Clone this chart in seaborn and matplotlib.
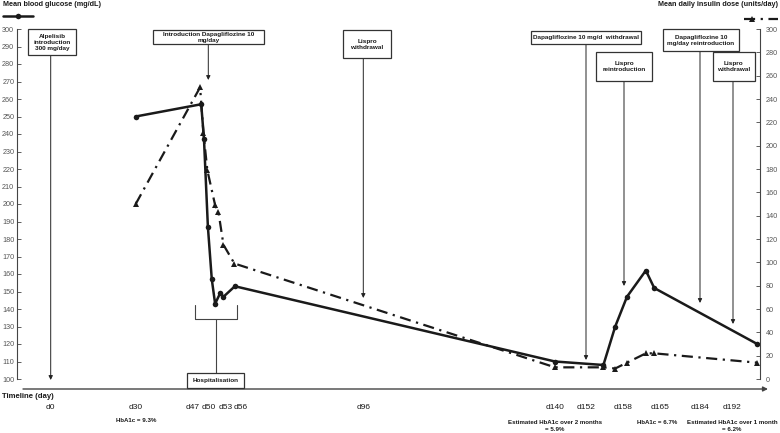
import numpy as np
import pandas as pd
import matplotlib
matplotlib.use("Agg")
import matplotlib.pyplot as plt
import seaborn as sns
from matplotlib.lines import Line2D
from matplotlib.patches import Rectangle

# ---------------- data ----------------
tick_days = [0, 30, 47, 50, 53, 56, 96, 140, 152, 158, 165, 184, 192]
tick_labels = ["d0", "d30", "d47", "d50", "d53", "d56", "d96", "d140",
               "d152", "d158", "d165", "d184", "d192"]

glucose_days = [30, 48.6, 49.1, 49.8, 50.5, 51.1, 52.0, 52.6, 54.8,
                140, 154.8, 156.7, 158.7, 162.3, 163.9, 198.3]
glucose_vals = [250, 257, 237, 187, 157, 143, 149, 147, 153,
                110, 108, 130, 147, 162, 152, 120]

insulin_days = [30, 48.4, 49.0, 49.7, 51.1, 51.7, 52.6, 54.7,
                140, 154.8, 156.7, 158.7, 162.3, 163.9, 198.3]
insulin_vals = [150, 250, 211, 179, 149, 143, 115, 99,
                10, 10, 9, 14, 22, 22, 14]

hba1c_texts = ["HbA1c = 9.3%", "Estimated HbA1c over 2 months\n= 5.9%",
               "HbA1c = 6.7%", "Estimated HbA1c over 1 month\n= 6.2%"]

events = ["Alpelisib\nintroduction\n300 mg/day",
          "Introduction Dapagliflozine 10\nmg/day",
          "Lispro\nwithdrawal",
          "Dapagliflozine 10 mg/d  withdrawal",
          "Lispro\nreintroduction",
          "Dapagliflozine 10\nmg/day reintroduction",
          "Lispro\nwithdrawal"]

# ---------------- layout (pixels) ----------------
W, H = 780, 433
tick_px = [50.7, 135.7, 192.3, 209, 225.7, 241, 363.3, 555, 586, 623.3, 660, 700, 732]
slope_l = (tick_px[1] - tick_px[0]) / (tick_days[1] - tick_days[0])
slope_r = (tick_px[-1] - tick_px[-2]) / (tick_days[-1] - tick_days[-2])
ext_days = np.array([-1000] + tick_days + [1000], dtype=float)
ext_px = np.array([tick_px[0] - 1000 * slope_l] + tick_px +
                  [tick_px[-1] + (1000 - tick_days[-1]) * slope_r])


def fwd(d):
    return np.interp(d, ext_days, ext_px)


def inv(p):
    return np.interp(p, ext_px, ext_days)


def px(x, y):
    return (x / W, 1 - y / H)


sns.set_style("white")
FONT = ["Liberation Sans Narrow", "Liberation Sans", "DejaVu Sans"]
FONT_R = ["Liberation Sans", "DejaVu Sans"]
plt.rcParams["font.family"] = FONT_R

fig = plt.figure(figsize=(W / 100, H / 100), dpi=100)
ax = fig.add_axes([17 / W, 1 - 379 / H, 743 / W, 350 / H])
ax2 = ax.twinx()
ax.set_xscale("function", functions=(fwd, inv))

INK = "#1a1a1a"
df_g = pd.DataFrame({"day": glucose_days, "val": glucose_vals})
df_i = pd.DataFrame({"day": insulin_days, "val": insulin_vals})

sns.lineplot(data=df_g, x="day", y="val", ax=ax, sort=False, estimator=None,
             color=INK, lw=1.8, marker="o", markersize=4, markeredgewidth=0)
sns.lineplot(data=df_i, x="day", y="val", ax=ax2, sort=False, estimator=None,
             color=INK, lw=1.6, marker="^", markersize=4.5, markeredgewidth=0,
             linestyle=(0, (5, 2.5, 1, 2.5)))

ax.set_xlim(inv(17), inv(760))
ax.set_ylim(100, 300)
ax2.set_ylim(0, 300)
ax.set_yticks(np.arange(100, 301, 10))
ax2.set_yticks(np.arange(0, 301, 20))
for a in (ax, ax2):
    a.set_xlabel("")
    a.set_ylabel("")
    a.spines["top"].set_visible(False)
    a.spines["bottom"].set_visible(False)
    a.grid(False)
    a.patch.set_visible(False)
ax.spines["right"].set_visible(False)
ax2.spines["left"].set_visible(False)
ax.spines["left"].set_color("#444444")
ax2.spines["right"].set_color("#444444")
ax.spines["left"].set_linewidth(0.8)
ax2.spines["right"].set_linewidth(0.8)

ax.tick_params(axis="y", direction="in", length=3, width=0.6, color="#444444",
               labelsize=5.2, labelcolor="#555555", pad=2)
ax2.tick_params(axis="y", direction="in", length=3, width=0.6, color="#444444",
                labelsize=5.2, labelcolor="#555555", pad=4)

ax.spines["bottom"].set_position(("outward", 7.2))
ax.set_xticks(tick_days)
ax.set_xticklabels(tick_labels)
ax.xaxis.set_minor_locator(matplotlib.ticker.NullLocator())
ax.tick_params(axis="x", direction="out", length=7.5, width=0.7, color="#444444",
               labelsize=6, labelcolor=INK, pad=3.5)
ax2.tick_params(axis="x", bottom=False, labelbottom=False)

# timeline arrow
fig.add_artist(matplotlib.patches.FancyArrowPatch(
    px(23, 389), px(768, 389), transform=fig.transFigure,
    arrowstyle="-|>", mutation_scale=7, color="#444444", lw=1.0,
    shrinkA=0, shrinkB=0))
fig.text(*px(2, 397), "Timeline (day)", family=FONT, weight="bold",
         fontsize=5.6, color=INK, ha="left", va="center")

# HbA1c notes
for (x, y), t in zip([(135.7, 421), (555, 426), (657, 422.5), (732, 426)], hba1c_texts):
    fig.text(*px(x, y), t, family=FONT, weight="bold", fontsize=4.4,
             color=INK, ha="center", va="center", linespacing=1.3)

# event boxes with arrows
boxes = [(27.7, 29.3, 76, 55), (152.7, 30, 264.3, 44.3), (343.3, 30, 390.7, 57.7),
         (531, 31, 640.7, 44.3), (596, 52.3, 652.3, 81), (662.7, 29.3, 739, 50.7),
         (712.7, 52.3, 755, 81)]
arrows = [(50.7, 380), (208.3, 80), (363.3, 298), (586, 360), (624, 286),
          (700, 303), (733, 324)]
for t, (x0, y0, x1, y1), (axx, tip) in zip(events, boxes, arrows):
    fig.add_artist(Rectangle(px(x0, y1), (x1 - x0) / W, (y1 - y0) / H,
                             transform=fig.transFigure, fc="white", ec="#333333",
                             lw=0.9, zorder=5))
    fig.text(*px((x0 + x1) / 2, (y0 + y1) / 2 + 0.3), t, family=FONT, weight="bold",
             fontsize=4.6, color=INK, ha="center", va="center",
             linespacing=1.25, zorder=6)
    fig.add_artist(matplotlib.patches.FancyArrowPatch(
        px(axx, y1), px(axx, tip), transform=fig.transFigure,
        arrowstyle="-|>", mutation_scale=6, color="#222222", lw=0.7,
        shrinkA=0, shrinkB=0, zorder=4))

# hospitalisation bracket
bx = [195, 195, 236.7, 236.7]
by = [305, 319, 319, 305]
fig.add_artist(Line2D([b / W for b in bx], [1 - b / H for b in by],
                      transform=fig.transFigure, color="#444444", lw=0.8))
fig.add_artist(Line2D([215.7 / W, 215.7 / W], [1 - 319 / H, 1 - 372.7 / H],
                      transform=fig.transFigure, color="#444444", lw=0.8))
fig.add_artist(Rectangle(px(187.3, 387.7), 56.4 / W, 15 / H, transform=fig.transFigure,
                         fc="white", ec="#333333", lw=0.9, zorder=5))
fig.text(*px(215.5, 380.5), "Hospitalisation", family=FONT, weight="bold",
         fontsize=4.6, color=INK, ha="center", va="center", zorder=6)

# legends
fig.text(*px(3, 5), "Mean blood glucose (mg/dL)", family=FONT, weight="bold",
         fontsize=5.2, color=INK, ha="left", va="center")
fig.add_artist(Line2D([3 / W, 33 / W], [1 - 15.7 / H] * 2, transform=fig.transFigure,
                      color=INK, lw=1.8))
fig.add_artist(Line2D([18 / W], [1 - 15.7 / H], transform=fig.transFigure,
                      color=INK, marker="o", markersize=4, markeredgewidth=0))
fig.text(*px(778, 5), "Mean daily insulin dose (units/day)", family=FONT,
         weight="bold", fontsize=5.2, color=INK, ha="right", va="center")
fig.add_artist(Line2D([744 / W, 778 / W], [1 - 19 / H] * 2, transform=fig.transFigure,
                      color=INK, lw=1.6, linestyle=(0, (5, 2.5, 1, 2.5))))
fig.add_artist(Line2D([752 / W], [1 - 19 / H], transform=fig.transFigure,
                      color=INK, marker="^", markersize=4.5, markeredgewidth=0))

fig.savefig("out.png", dpi=100)
